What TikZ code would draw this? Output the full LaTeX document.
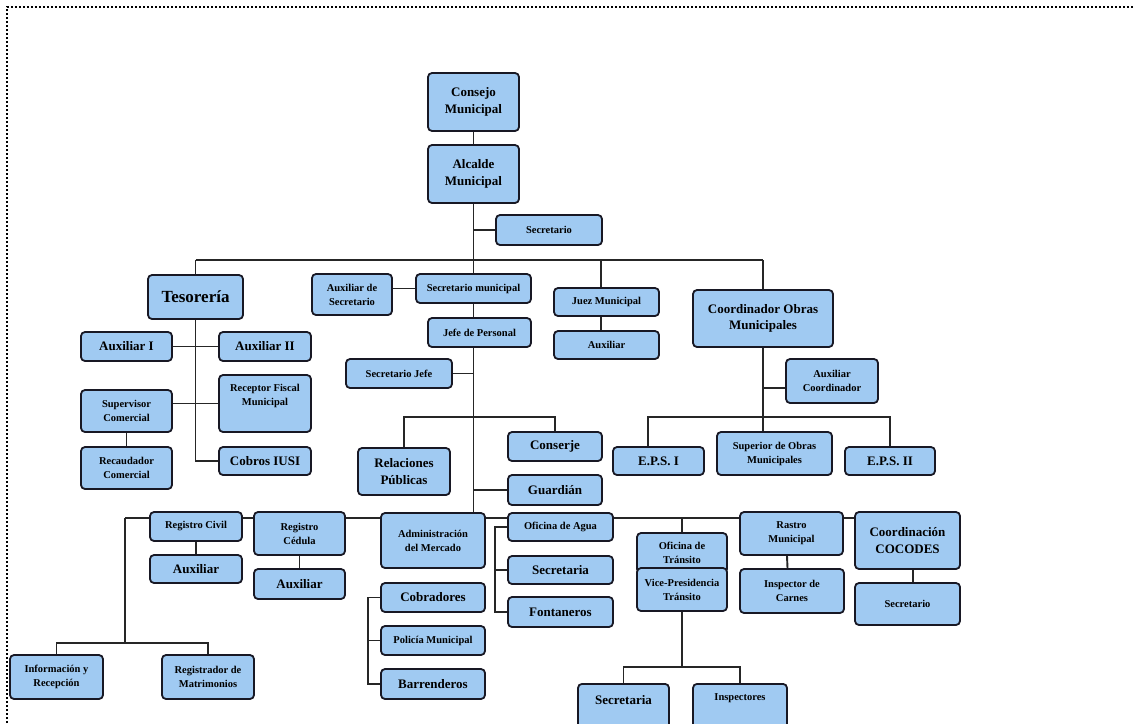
\documentclass[tikz,border=0pt]{standalone}
\usepackage{fontspec}
\setmainfont{Liberation Serif}
\usetikzlibrary{backgrounds}
\definecolor{boxfill}{RGB}{160,202,242}
\definecolor{boxline}{RGB}{24,24,36}
\definecolor{linec}{RGB}{38,38,38}
\tikzset{
  box/.style={draw=boxline, line width=1.8pt, rounded corners=4pt, fill=boxfill, align=center, inner sep=1pt},
  bigf/.style={font=\fontsize{13}{16.5}\selectfont\bfseries},
  smf/.style={font=\fontsize{10.5}{14}\selectfont\bfseries},
  big/.style={box, bigf},
  sm/.style={box, smf},
  conn/.style={draw=linec, line width=1.9pt},
  frame/.style={draw=black, line width=2pt, dash pattern=on 2pt off 2pt}
}
\begin{document}
\begin{tikzpicture}[x=1pt,y=-1pt]
\useasboundingbox (0,0) rectangle (1134,723);
\draw[frame] (7,723) -- (7,7) -- (1134,7);

% top
\node[big, minimum width=91pt, minimum height=58pt] (consejo) at (473.5,102) {Consejo\\Municipal};
\node[big, minimum width=91pt, minimum height=58pt] (alcalde) at (473.5,174) {Alcalde\\Municipal};
\node[sm, minimum width=106pt, minimum height=30pt] (sectop) at (549,230) {Secretario};

% Tesoreria
\node[box, font=\fontsize{17}{20}\selectfont\bfseries, minimum width=95pt, minimum height=44pt] (tesoreria) at (195.5,297) {Tesorería};
\node[big, minimum width=91pt, minimum height=29pt] (aux1) at (126.5,346.5) {Auxiliar I};
\node[big, minimum width=92pt, minimum height=29pt] (aux2) at (265,346.5) {Auxiliar II};
\node[sm, minimum width=91pt, minimum height=42pt] (supervisor) at (126.5,411) {Supervisor\\Comercial};
\node[sm, minimum width=92pt, minimum height=57pt] (receptor) at (265,403.5) {Receptor Fiscal\\Municipal\\[4pt]};
\node[sm, minimum width=91pt, minimum height=42pt] (recaudador) at (126.5,468) {Recaudador\\Comercial};
\node[big, minimum width=92pt, minimum height=28pt] (cobros) at (265,461) {Cobros IUSI};

% Secretario municipal branch
\node[sm, minimum width=80pt, minimum height=41pt] (auxsec) at (352,294.5) {Auxiliar de\\Secretario};
\node[sm, minimum width=115pt, minimum height=29pt] (secmun) at (473.5,288.5) {Secretario municipal};
\node[sm, minimum width=103pt, minimum height=29pt] (jefe) at (479.5,332.5) {Jefe de Personal};
\node[sm, minimum width=106pt, minimum height=29pt] (secjefe) at (399,373.5) {Secretario Jefe};
\node[big, minimum width=92pt, minimum height=47pt] (relaciones) at (404,471.5) {Relaciones\\Públicas};
\node[big, minimum width=94pt, minimum height=29pt] (conserje) at (555,446.5) {Conserje};
\node[big, minimum width=94pt, minimum height=30pt] (guardian) at (555,490) {Guardián};

% Juez
\node[sm, minimum width=105pt, minimum height=28pt] (juez) at (606.5,302) {Juez Municipal};
\node[sm, minimum width=105pt, minimum height=28pt] (auxjuez) at (606.5,345) {Auxiliar};

% Coordinador
\node[big, minimum width=140pt, minimum height=57pt] (coord) at (763,318.5) {Coordinador Obras\\Municipales};
\node[sm, minimum width=92pt, minimum height=44pt] (auxcoord) at (832,381) {Auxiliar\\Coordinador};
\node[big, minimum width=91pt, minimum height=28pt] (eps1) at (658.5,461) {E.P.S. I};
\node[sm, minimum width=115pt, minimum height=43pt] (superior) at (774.5,453.5) {Superior de Obras\\Municipales};
\node[big, minimum width=90pt, minimum height=28pt] (eps2) at (890,461) {E.P.S. II};

% bottom row
\node[sm, minimum width=92pt, minimum height=29pt] (regcivil) at (196,526.5) {Registro Civil};
\node[big, minimum width=92pt, minimum height=28pt] (auxrc) at (196,569) {Auxiliar};
\node[sm, minimum width=91pt, minimum height=43pt] (regced) at (299.5,533.5) {Registro\\Cédula};
\node[big, minimum width=91pt, minimum height=30pt] (auxced) at (299.5,584) {Auxiliar};
\node[sm, minimum width=93pt, minimum height=44pt] (info) at (56.5,677) {Información y\\Recepción};
\node[sm, minimum width=92pt, minimum height=44pt] (regmat) at (208,677) {Registrador de\\Matrimonios};

\node[sm, minimum width=104pt, minimum height=55pt] (admin) at (433,540.5) {Administración\\del Mercado};
\node[big, minimum width=104pt, minimum height=29pt] (cobradores) at (433,597.5) {Cobradores};
\node[sm, minimum width=104pt, minimum height=29pt] (policia) at (433,640.5) {Policía Municipal};
\node[big, minimum width=104pt, minimum height=30pt] (barrenderos) at (433,684) {Barrenderos};

\node[sm, minimum width=105pt, minimum height=28pt] (agua) at (560.5,527) {Oficina de Agua};
\node[big, minimum width=105pt, minimum height=28pt] (secagua) at (560.5,570) {Secretaria};
\node[big, minimum width=105pt, minimum height=30pt] (fontaneros) at (560.5,612) {Fontaneros};

\node[sm, minimum width=90pt, minimum height=40pt] (transito) at (682,553) {Oficina de\\Tránsito};
\node[sm, minimum width=90pt, minimum height=43pt] (vice) at (682,589.5) {Vice-Presidencia\\Tránsito};
\node[box, minimum width=91pt, minimum height=60pt, anchor=north,
      label={[bigf, anchor=center, yshift=-17pt]north:Secretaria}] (sectr) at (623.5,683) {};
\node[box, minimum width=94pt, minimum height=60pt, anchor=north,
      label={[smf, anchor=center, yshift=-15pt]north:Inspectores}] (inspectores) at (740,683) {};

\node[sm, minimum width=103pt, minimum height=43pt] (rastro) at (791.5,533.5) {Rastro\\Municipal};
\node[sm, minimum width=104pt, minimum height=44pt] (inspcarnes) at (792,591) {Inspector de\\Carnes};
\node[big, minimum width=105pt, minimum height=57pt] (cocodes) at (907.5,540.5) {Coordinación\\COCODES};
\node[sm, minimum width=105pt, minimum height=42pt] (seccoc) at (907.5,604) {Secretario};

% connectors
\coordinate (bus) at (473.5,260);
\coordinate (jz) at (601,260);
\coordinate (tx) at (473.5,0);
\coordinate (rb) at (473.5,417);
\coordinate (bb) at (125,518);
\coordinate (lb) at (125,643);
\coordinate (vb) at (682,667);
\coordinate (cb) at (763,417);

\begin{scope}[on background layer]
\draw[conn] (consejo.south) -- (alcalde.north);
\draw[conn] (alcalde.south) -- (secmun.north);
\draw[conn] (alcalde.south |- sectop.west) -- (sectop.west);
\draw[conn] (tesoreria.north |- bus) -- (coord.north |- bus);
\draw[conn] (tesoreria.north |- bus) -- (tesoreria.north);
\draw[conn] (coord.north |- bus) -- (coord.north);
\draw[conn] (jz) -- (jz |- juez.north);
\draw[conn] (jz |- juez.south) -- (jz |- auxjuez.north);
\draw[conn] (secmun.west) -- (secmun.west -| auxsec.east);
\draw[conn] (secmun.south) -- (secmun.south |- jefe.north);
\draw[conn] (tx |- jefe.south) -- (tx |- bb);
\draw[conn] (secjefe.east) -- (secjefe.east -| tx);
\draw[conn] (relaciones.north) |- (rb) -| (conserje.north);
\draw[conn] (guardian.west) -- (guardian.west -| tx);

\draw[conn] (tesoreria.south) -- (tesoreria.south |- cobros.west) -- (cobros.west);
\draw[conn] (aux1.east) -- (aux2.west);
\draw[conn] (receptor.west) -- (receptor.west -| supervisor.east);
\draw[conn] (supervisor.south) -- (recaudador.north);

\draw[conn] (coord.south) -- (coord.south |- superior.north);
\draw[conn] ([yshift=-7pt]auxcoord.west) -- ([yshift=-7pt]auxcoord.west -| coord.south);
\draw[conn] ([xshift=-10.5pt]eps1.north) |- (cb) -| (eps2.north);

\draw[conn] (bb) -- (bb -| cocodes.west);
\draw[conn] (bb) -- (lb);
\draw[conn] (info.north) |- (lb) -| (regmat.north);
\draw[conn] (regcivil.south) -- (auxrc.north);
\draw[conn] (regced.south) -- (auxced.north);
\draw[conn] (agua.west) -- ++(-12,0) |- (fontaneros.west);
\draw[conn] (secagua.west) -- ++(-12,0);
\draw[conn] (cobradores.west) -- ++(-12,0) |- (barrenderos.west);
\draw[conn] (policia.west) -- ++(-12,0);
\draw[conn] (transito.north |- bb) -- (transito.north);
\draw[conn] (vice.south) -- (vb);
\draw[conn] (sectr.north) |- (vb) -| (inspectores.north);
\draw[conn] ([xshift=-4.5pt]rastro.south) -- ([xshift=-4.5pt]inspcarnes.north);
\draw[conn] ([xshift=5.5pt]cocodes.south) -- ([xshift=5.5pt]seccoc.north);
\end{scope}
\end{tikzpicture}
\end{document}
